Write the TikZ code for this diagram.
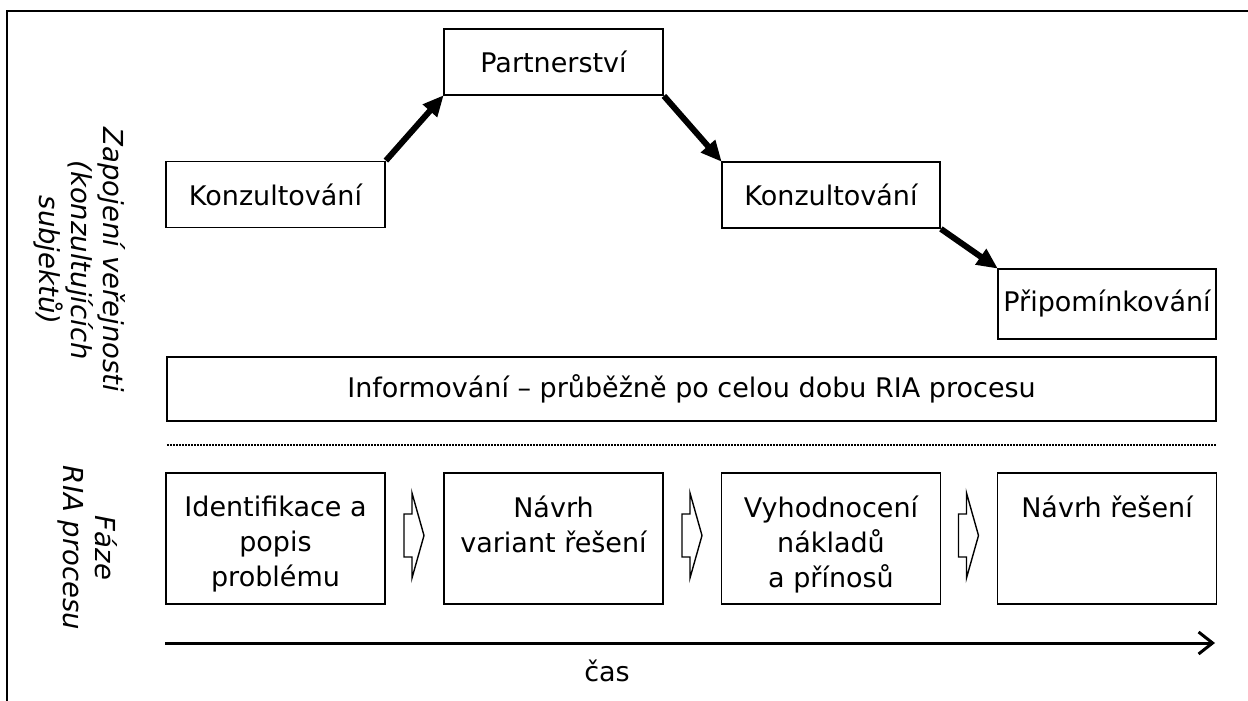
\documentclass[tikz,border=0pt]{standalone}
\usepackage{fontspec}
\setmainfont{DejaVu Sans}
\usetikzlibrary{arrows.meta}
\begin{document}
\begin{tikzpicture}[x=1pt,y=-1pt,
  txt/.style={font=\fontsize{27}{35}\selectfont,align=center,inner sep=0pt},
  box/.style={txt,draw,line width=1.8pt},
  stage/.style={box,minimum width=219pt,minimum height=131pt},
  side/.style={txt,font=\fontsize{27.5}{32}\selectfont\itshape,rotate=-90},
  flow/.style={line width=6pt,-{Triangle[length=21pt,width=18pt]},shorten >=-1pt},
  hollow/.style={line width=1.4pt,line join=miter}]
\useasboundingbox (0,0) rectangle (1248,701);
% outer frame (open towards the lower and right edges)
\draw[line width=2.5pt] (7,710) -- (7,11) -- (1260,11);

% level of public involvement
\node[box,minimum width=219pt,minimum height=66pt] (k1) at (275.5,194.5) {Konzultování};
\node[box,minimum width=219pt,minimum height=66pt] (pa) at (553.5,62) {Partnerství};
\node[box,minimum width=218pt,minimum height=66pt] (k2) at (831,195) {Konzultování};
\node[box,minimum width=218pt,minimum height=70pt] (pr) at (1107,304) {Připomínkování};
\node[box,minimum width=1049pt,minimum height=64pt] (inf) at (691.5,389) {Informování – průběžně po celou dobu RIA procesu};

\draw[flow] (k1.north east) -- (pa.south west);
\draw[flow] (pa.south east) -- (k2.north west);
\draw[flow] (k2.south east) -- (pr.north west);

% separator
\coordinate (s0) at (167,445);
\coordinate (s1) at (1216,445);
\draw[line width=2pt,dash pattern=on 2pt off 1pt] (s0) -- (s1);

% RIA phases
\node[stage] (b1) at (275.5,538.5) {};
\node[stage] (b2) at (553.5,538.5) {};
\node[stage] (b3) at (831,538.5) {};
\node[stage] (b4) at (1107,538.5) {};
\node[txt,anchor=north] (t1) at ([yshift=-24pt]b1.north) {Identifikace a\\popis\\problému};
\node[txt,anchor=north] (t2) at ([yshift=-24pt]b2.north) {Návrh\\variant řešení};
\node[txt,anchor=north] (t3) at ([yshift=-24pt]b3.north) {Vyhodnocení\\nákladů\\a přínosů};
\node[txt,anchor=north] (t4) at ([yshift=-24pt]b4.north) {Návrh řešení};

% hollow block arrows between phases
\foreach \cx in {414.5,692.5,969} {
  \draw[hollow] (\cx-10.5,514) -- (\cx-2.5,514) -- (\cx-2.5,493) -- (\cx+9.5,535.5)
    -- (\cx-2.5,578) -- (\cx-2.5,557) -- (\cx-10.5,557) -- cycle;
}

% time axis
\coordinate (a0) at (165,643);
\coordinate (a1) at (1215,643);
\draw[line width=3pt,-{Straight Barb[length=14pt,width=22pt]}] (a0) -- (a1);
\node[txt] (cas) at (607,671) {čas};

% side captions
\node[side] (lz) at (80,260) {Zapojení veřejnosti\\(konzultujících\\subjektů)};
\node[side] (lf) at (88,548) {Fáze\\RIA procesu};
\end{tikzpicture}
\end{document}
